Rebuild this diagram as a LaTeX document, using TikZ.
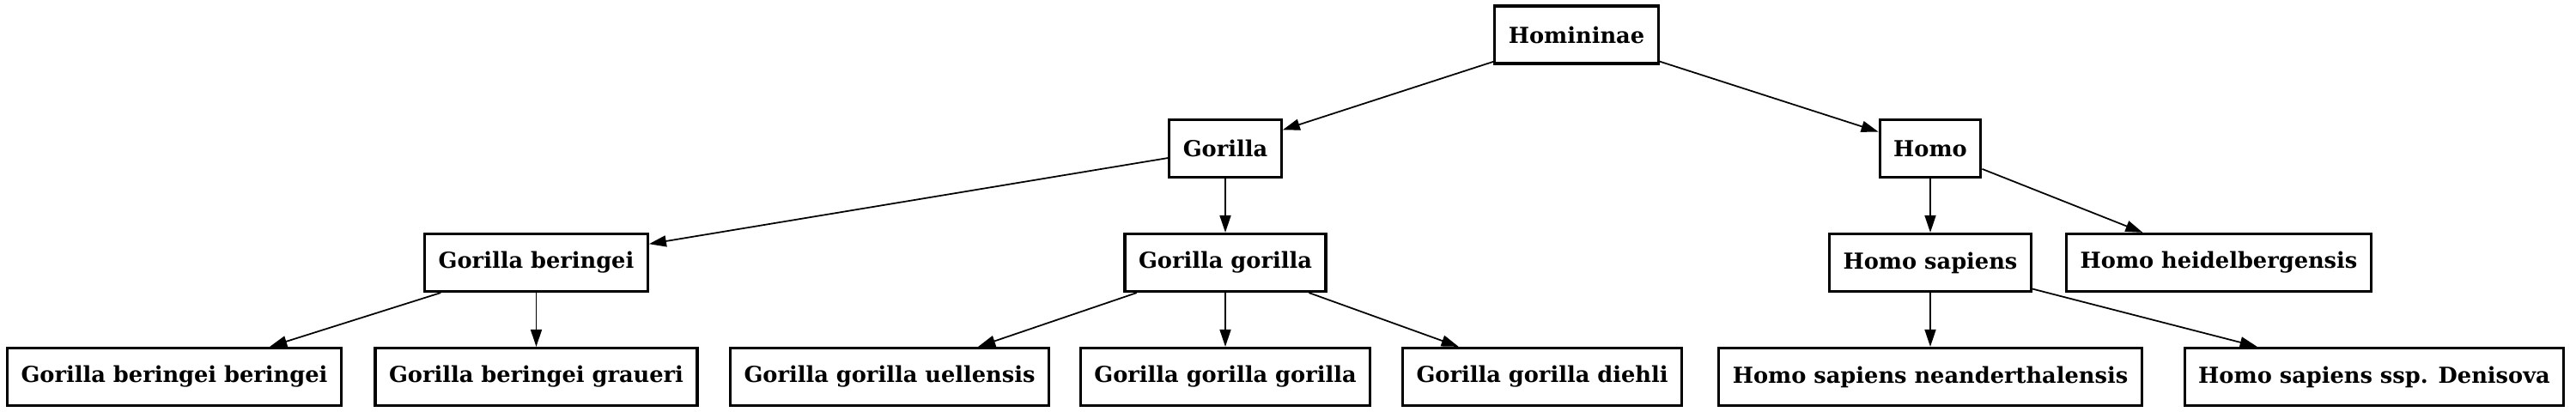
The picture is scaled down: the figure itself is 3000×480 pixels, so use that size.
\documentclass[tikz,border=0pt]{standalone}
\usepackage{fontspec}
\setmainfont{DejaVu Serif}
\usetikzlibrary{arrows.meta}
\begin{document}
\begin{tikzpicture}[x=0.01cm,y=-0.01cm,
  taxon/.style={draw,line width=0.9pt,minimum height=0.67cm,inner xsep=0.16cm,
    font=\fontsize{7.3}{8.7}\selectfont\bfseries},
  link/.style={line width=0.5pt,-{Triangle[length=0.2cm,width=0.13cm]}}]
\useasboundingbox (0,0) rectangle (3000,480);

\node[taxon] (hom) at (1836,40.5) {Homininae};

\node[taxon] (gor) at (1427,173) {Gorilla};
\node[taxon] (homo) at (2248,173) {Homo};

\node[taxon] (gb) at (624.5,306) {Gorilla beringei};
\node[taxon] (gg) at (1427,306) {Gorilla gorilla};
\node[taxon] (hs) at (2248,306) {Homo sapiens};
\node[taxon] (hh) at (2584,306) {Homo heidelbergensis};

\node[taxon] (gbb) at (203,439) {Gorilla beringei beringei};
\node[taxon] (gbg) at (624.5,439) {Gorilla beringei graueri};
\node[taxon] (ggu) at (1036,439) {Gorilla gorilla uellensis};
\node[taxon] (ggg) at (1427,439) {Gorilla gorilla gorilla};
\node[taxon] (ggd) at (1796,439) {Gorilla gorilla diehli};
\node[taxon] (hsn) at (2248,439) {Homo sapiens neanderthalensis};
\node[taxon] (hsd) at (2765,439) {Homo sapiens ssp. Denisova};

\draw[link] (hom) -- (gor);
\draw[link] (hom) -- (homo);

\draw[link] (gor) -- (gb);
\draw[link] (gor) -- (gg);
\draw[link] (homo) -- (hs);
\draw[link] (homo) -- (hh);

\draw[link] (gb) -- (gbb);
\draw[link] (gb) -- (gbg);
\draw[link] (gg) -- (ggu);
\draw[link] (gg) -- (ggg);
\draw[link] (gg) -- (ggd);
\draw[link] (hs) -- (hsn);
\draw[link] (hs) -- (hsd);
\end{tikzpicture}
\end{document}
